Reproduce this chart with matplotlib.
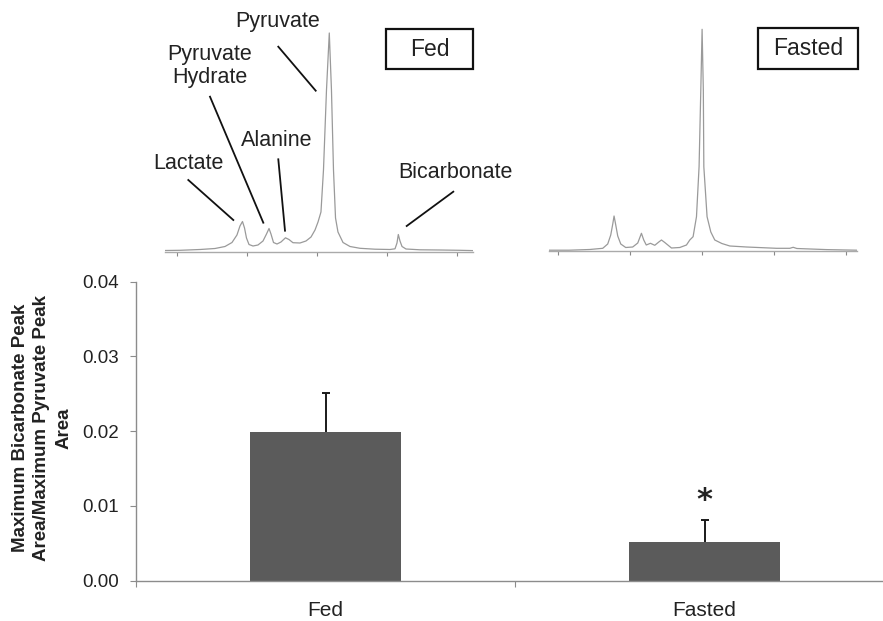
import matplotlib
matplotlib.use("Agg")
import matplotlib.pyplot as plt
from matplotlib.lines import Line2D
from matplotlib.patches import Rectangle

plt.rcParams["font.family"] = ["Liberation Sans", "DejaVu Sans"]

# ---- bar data ----
groups = ["Fed", "Fasted"]
ratio = [0.0199, 0.0052]
ratio_err = [0.0052, 0.0029]
y_ticks = [0.00, 0.01, 0.02, 0.03, 0.04]

# ---- spectra (chemical shift in ppm, intensity in a.u.) ----
fed_ppm = [191.67, 189.53, 186.67, 184.53, 183.1, 182.1, 181.39, 180.96, 180.6,
           180.31, 180.03, 179.67, 179.1, 178.39, 177.67, 177.17, 176.81, 176.53,
           176.17, 175.67, 175.1, 174.46, 173.96, 173.39, 172.39, 171.53, 170.81,
           170.24, 169.81, 169.39, 169.03, 168.6, 168.2, 167.89, 167.6, 167.31,
           166.96, 166.24, 165.24, 163.81, 161.67, 159.53, 158.81, 158.53, 158.34,
           158.1, 157.81, 157.24, 155.24, 152.39, 149.53, 147.67]
fed_int = [1.2, 1.4, 2.2, 3.2, 5.2, 9.2, 16.7, 25.7, 30.2,
           23.7, 13.7, 7.2, 5.7, 6.7, 10.7, 17.7, 23.2, 17.7,
           9.2, 7.7, 9.7, 13.9, 12.2, 9.0, 8.7, 10.7, 14.7,
           21.7, 29.7, 39.7, 81.7, 161.7, 218.7, 161.7, 81.7, 33.7,
           19.7, 9.2, 5.2, 3.4, 2.5, 2.2, 2.9, 8.7, 17.2,
           10.7, 5.2, 2.7, 1.9, 1.7, 1.4, 1.1]

fasted_ppm = [191.29, 188.47, 185.6, 183.79, 183.1, 182.68, 182.4, 182.22, 182.01,
              181.71, 181.29, 180.6, 179.63, 178.93, 178.42, 178.1, 177.75, 177.17,
              176.57, 176.01, 175.64, 175.18, 174.25, 173.1, 172.17, 171.71, 171.25,
              170.78, 170.42, 170.18, 170.0, 169.83, 169.76, 169.31, 168.79, 168.24,
              167.26, 166.15, 163.83, 159.67, 157.82, 157.36, 156.85, 152.72, 148.51]
fasted_int = [0.8, 0.8, 1.5, 2.7, 7.0, 16.0, 27.0, 35.0, 27.0,
              15.0, 7.0, 3.5, 4.0, 8.0, 17.7, 11.0, 6.0, 7.7,
              5.7, 9.0, 11.0, 8.5, 3.0, 3.5, 6.0, 11.0, 14.3,
              34.3, 84.3, 161.0, 221.7, 161.0, 84.3, 34.3, 19.0, 11.0,
              7.5, 5.0, 4.0, 2.7, 2.7, 3.7, 2.5, 1.4, 0.8]
ppm_ticks = [190, 180, 170, 160, 150]

W, H = 883, 621


def fx(px):
    return px / W


def fy(py):
    return 1 - py / H


fig = plt.figure(figsize=(8.83, 6.21), dpi=100)

# ----------------------------------------------------------
# Bar chart
# ----------------------------------------------------------
ax = fig.add_axes([fx(136), fy(580.7), 758 / W, 299 / H])
xpos = [0.5, 1.5]
ax.bar(xpos, ratio, width=0.4, color="#5b5b5b", zorder=2)
_, caps, _ = ax.errorbar(xpos, ratio, yerr=[[0, 0], ratio_err], fmt="none",
                         ecolor="#1a1a1a", elinewidth=1.4, capsize=3,
                         capthick=1.4, zorder=3)
caps[0].set_visible(False)  # no cap at the bar top
ax.annotate("*", (xpos[1], ratio[1] + ratio_err[1]), xytext=(0, 4),
            textcoords="offset points", ha="center", va="bottom",
            fontsize=22, fontweight="bold", family="DejaVu Sans", color="#222222")

ax.set_xlim(0, 2)
ax.set_ylim(0, 0.04)
ax.set_yticks(y_ticks)
ax.set_yticklabels([f"{v:.2f}" for v in y_ticks])
ax.set_xticks([0, 1, 2])
ax.set_xticklabels([])
ax.set_xticks(xpos, minor=True)
ax.set_xticklabels(groups, minor=True)
ax.tick_params(axis="x", which="minor", length=0, pad=14.5, labelsize=15, labelcolor="#222222")
ax.tick_params(axis="x", which="major", length=4, color="#8c8c8c", direction="out")
ax.tick_params(axis="y", length=4, color="#8c8c8c", pad=8, labelsize=13.5, labelcolor="#222222")
for s in ["top", "right"]:
    ax.spines[s].set_visible(False)
for s in ["left", "bottom"]:
    ax.spines[s].set_color("#8c8c8c")
    ax.spines[s].set_linewidth(1.0)

fig.text(fx(42), fy(428), "Maximum Bicarbonate Peak\nArea/Maximum Pyruvate Peak\nArea",
         rotation=90, ha="center", va="center", multialignment="center",
         fontsize=13.5, fontweight="bold", color="#222222", linespacing=1.35)


# ----------------------------------------------------------
# Spectra insets
# ----------------------------------------------------------
def spectrum_axes(left_px, right_px, base_px, lo_ppm, hi_ppm, top_int, ppm, inten):
    sax = fig.add_axes([fx(left_px), fy(base_px), (right_px - left_px) / W, top_int / H])
    sax.plot(ppm, inten, color="#9a9a9a", lw=0.9)
    sax.set_xlim(hi_ppm, lo_ppm)
    sax.set_ylim(0, top_int)
    sax.set_xticks(ppm_ticks)
    sax.set_xticklabels([])
    sax.set_yticks([])
    sax.tick_params(axis="x", length=3, color="#888888", direction="out")
    for s in ["top", "right", "left"]:
        sax.spines[s].set_visible(False)
    sax.spines["bottom"].set_color("#aaaaaa")
    sax.spines["bottom"].set_linewidth(1.0)
    sax.patch.set_alpha(0)
    return sax


spectrum_axes(165, 473, 251.7, 147.67, 191.67, 231.7, fed_ppm, fed_int)
spectrum_axes(549, 857, 251.0, 148.5, 191.25, 231.0, fasted_ppm, fasted_int)

# peak labels with leader lines (Fed spectrum)
labels = [
    ("Pyruvate", 278, 21, (278.3, 46.7), (315.7, 90.7)),
    ("Pyruvate\nHydrate", 210, 66, (210, 96.7), (263.3, 222.7)),
    ("Alanine", 277, 141, (278.3, 159.3), (285, 230.7)),
    ("Lactate", 188, 163, (188.3, 180), (233.3, 220)),
    ("Bicarbonate", 455, 173, (453.3, 191.7), (406.7, 226)),
]
for txt, tx, ty, p0, p1 in labels:
    fig.text(fx(tx), fy(ty), txt, ha="center", va="center", multialignment="center",
             fontsize=15.5, color="#222222", linespacing=1.1)
    fig.add_artist(Line2D([fx(p0[0]), fx(p1[0])], [fy(p0[1]), fy(p1[1])],
                          color="#111111", lw=1.3, transform=fig.transFigure))

# condition boxes
for name, x0, x1, y0, y1 in [("Fed", 386, 473, 29.3, 69.3), ("Fasted", 758.3, 857.7, 28.3, 69)]:
    fig.add_artist(Rectangle((fx(x0), fy(y1)), (x1 - x0) / W, (y1 - y0) / H,
                             transform=fig.transFigure, facecolor="white",
                             edgecolor="#111111", lw=1.6))
    fig.text(fx((x0 + x1) / 2), fy((y0 + y1) / 2), name, ha="center", va="center",
             fontsize=16.5, color="#222222")

fig.savefig("out.png", dpi=100)
